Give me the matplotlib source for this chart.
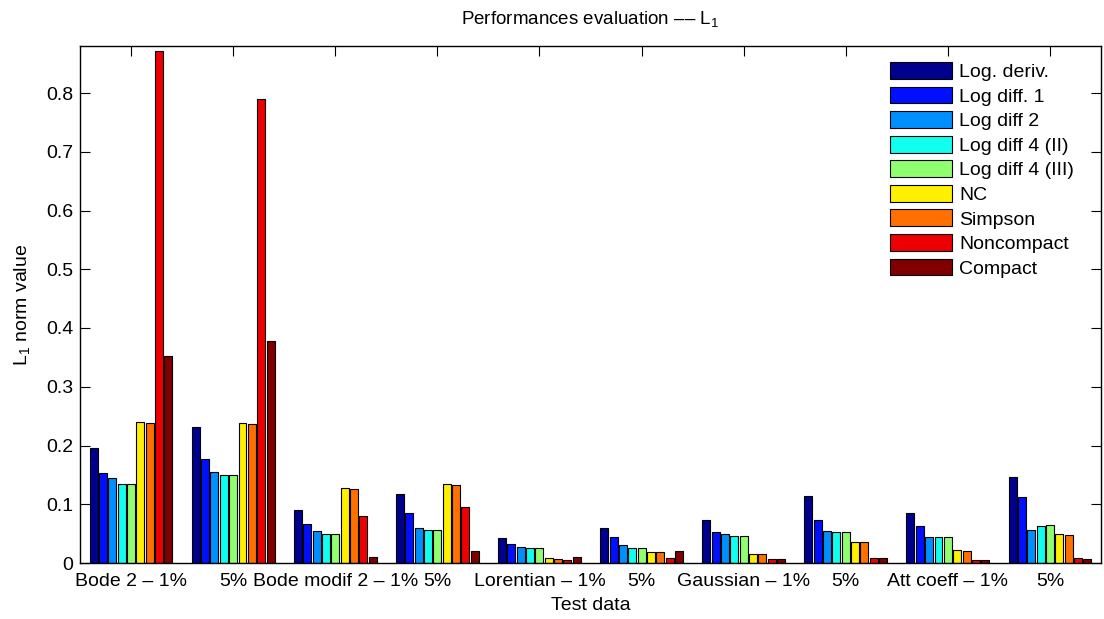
import matplotlib
matplotlib.use("Agg")
import matplotlib.pyplot as plt
import numpy as np

plt.rcParams['font.family'] = ['Liberation Sans', 'DejaVu Sans']
plt.rcParams['mathtext.fontset'] = 'custom'
plt.rcParams['mathtext.rm'] = 'Liberation Sans'

categories = ["Bode 2 \u2013 1%", "5%", "Bode modif 2 \u2013 1%", "5%",
              "Lorentian \u2013 1%", "5%", "Gaussian \u2013 1%", "5%",
              "Att coeff \u2013 1%", "5%"]
series_names = ["Log. deriv.", "Log diff. 1", "Log diff 2", "Log diff 4 (II)",
                "Log diff 4 (III)", "NC", "Simpson", "Noncompact", "Compact"]

log_deriv = [0.196, 0.231, 0.091, 0.118, 0.042, 0.060, 0.073, 0.114, 0.085, 0.146]
log_diff1 = [0.153, 0.177, 0.066, 0.085, 0.032, 0.044, 0.053, 0.073, 0.063, 0.113]
log_diff2 = [0.144, 0.155, 0.054, 0.060, 0.027, 0.030, 0.049, 0.054, 0.045, 0.056]
log_diff4_II = [0.135, 0.149, 0.049, 0.057, 0.025, 0.026, 0.046, 0.052, 0.045, 0.063]
log_diff4_III = [0.135, 0.149, 0.049, 0.057, 0.025, 0.026, 0.046, 0.052, 0.045, 0.064]
nc = [0.240, 0.238, 0.128, 0.134, 0.008, 0.019, 0.016, 0.035, 0.022, 0.050]
simpson = [0.239, 0.236, 0.126, 0.133, 0.007, 0.018, 0.016, 0.035, 0.021, 0.048]
noncompact = [0.872, 0.789, 0.080, 0.096, 0.005, 0.008, 0.006, 0.008, 0.005, 0.008]
compact = [0.353, 0.378, 0.010, 0.020, 0.010, 0.020, 0.006, 0.008, 0.005, 0.007]

series = [log_deriv, log_diff1, log_diff2, log_diff4_II, log_diff4_III,
          nc, simpson, noncompact, compact]

colors = [(0, 0, 0.5625), (0, 0.0625, 1), (0, 0.5625, 1), (0.0625, 1, 0.9375),
          (0.5625, 1, 0.4375), (1, 0.9375, 0), (1, 0.4375, 0), (0.9375, 0, 0),
          (0.5, 0, 0)]

yticks = [0, 0.1, 0.2, 0.3, 0.4, 0.5, 0.6, 0.7, 0.8]
ytick_labels = ["0", "0.1", "0.2", "0.3", "0.4", "0.5", "0.6", "0.7", "0.8"]

fig = plt.figure(figsize=(11.04, 6.19), dpi=100)
ax = fig.add_axes([80 / 1104, 1 - 563 / 619, (1101 - 80) / 1104, (563 - 46) / 619])
ax.set_axisbelow(True)

x = np.arange(1, len(categories) + 1)
pitch = 0.0915
width = 0.078
n = len(series)
for i, (vals, name, c) in enumerate(zip(series, series_names, colors)):
    ax.bar(x + (i - (n - 1) / 2) * pitch, vals, width=width, color=c,
           edgecolor='black', linewidth=0.8, label=name)

ax.set_xlim(0.5, 10.5)
ax.set_ylim(0, 0.88)
ax.set_xticks(x)
ax.set_xticklabels(categories)
ax.set_yticks(yticks)
ax.set_yticklabels(ytick_labels)
ax.tick_params(direction='in', top=True, right=True, length=7, width=0.8,
               labelsize=14, pad=5)
ax.tick_params(axis='x', pad=7)
for s in ax.spines.values():
    s.set_linewidth(1.0)

ax.set_xlabel("Test data", fontsize=14, labelpad=5)
ax.set_ylabel(r"$\mathregular{L_1}$ norm value", fontsize=14, labelpad=10)
ax.set_title("Performances evaluation \u2013\u2013 $\\mathregular{L_1}$", fontsize=13.5, pad=16)

leg = ax.legend(loc='upper left', bbox_to_anchor=(890 / 1104, 1 - 62 / 619),
                bbox_transform=fig.transFigure, frameon=False, fontsize=14,
                handlelength=3.2, handleheight=0.96, handletextpad=0.36,
                labelspacing=0.28, borderpad=0, borderaxespad=0)

fig.savefig("out.png", dpi=100)
